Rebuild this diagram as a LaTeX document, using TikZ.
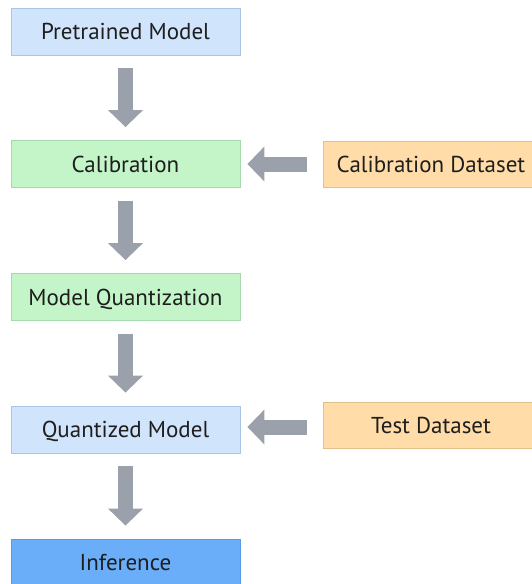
\documentclass[tikz,border=0pt]{standalone}
\usepackage{fontspec}
\setmainfont{PT Sans}
\usetikzlibrary{arrows.meta}

\definecolor{bluefill}{HTML}{D0E4FC}
\definecolor{blueline}{HTML}{A9C4E6}
\definecolor{greenfill}{HTML}{C3F5C9}
\definecolor{greenline}{HTML}{A6D9AB}
\definecolor{orangefill}{HTML}{FFDCA8}
\definecolor{orangeline}{HTML}{E2C08E}
\definecolor{inffill}{HTML}{6AAEF9}
\definecolor{infline}{HTML}{5A9BE6}
\definecolor{arrowgray}{HTML}{9BA1AA}
\definecolor{textdark}{HTML}{1E1E1E}

\tikzset{
  stage/.style={draw, line width=0.8pt, minimum width=229pt, minimum height=47pt,
    inner sep=0pt, text height=16pt, text depth=0pt, text=textdark,
    font=\fontsize{23}{27}\selectfont},
  bluebox/.style={stage, fill=bluefill, draw=blueline},
  greenbox/.style={stage, fill=greenfill, draw=greenline},
  orangebox/.style={stage, fill=orangefill, draw=orangeline, minimum width=216pt, minimum height=46pt},
  infbox/.style={stage, fill=inffill, draw=infline},
  bigarrow/.style={draw=arrowgray, line width=15pt,
    -{Triangle[width=34pt,length=17pt,fill=arrowgray]}}
}

\begin{document}
\begin{tikzpicture}[x=1pt,y=1pt]
  \useasboundingbox (0,0) rectangle (532,-584);

  % main pipeline
  \node[bluebox]  (pre) at (125.5,-31.5) {Pretrained Model};
  \node[greenbox] (cal) at (125.5,-164) {Calibration};
  \node[greenbox] (mq)  at (125.5,-297) {Model Quantization};
  \node[bluebox]  (qm)  at (125.5,-429.5) {Quantized Model};
  \node[infbox]   (inf) at (125.5,-562.5) {Inference};

  % datasets
  \node[orangebox] (caldata)  at (431,-164) {Calibration Dataset};
  \node[orangebox] (testdata) at (431,-425) {Test Dataset};

  % downward flow
  \draw[bigarrow] ([yshift=-13pt]pre.south) -- ([yshift=13pt]cal.north);
  \draw[bigarrow] ([yshift=-13pt]cal.south) -- ([yshift=13pt]mq.north);
  \draw[bigarrow] ([yshift=-13pt]mq.south)  -- ([yshift=13pt]qm.north);
  \draw[bigarrow] ([yshift=-13pt]qm.south)  -- ([yshift=13pt]inf.north);

  % dataset inputs
  \draw[bigarrow] ([xshift=-16pt]caldata.west) -- ([xshift=7pt]cal.east);
  \draw[bigarrow] ([xshift=-16pt,yshift=-2pt]testdata.west) -- ([xshift=7pt,yshift=2.5pt]qm.east);
\end{tikzpicture}
\end{document}
